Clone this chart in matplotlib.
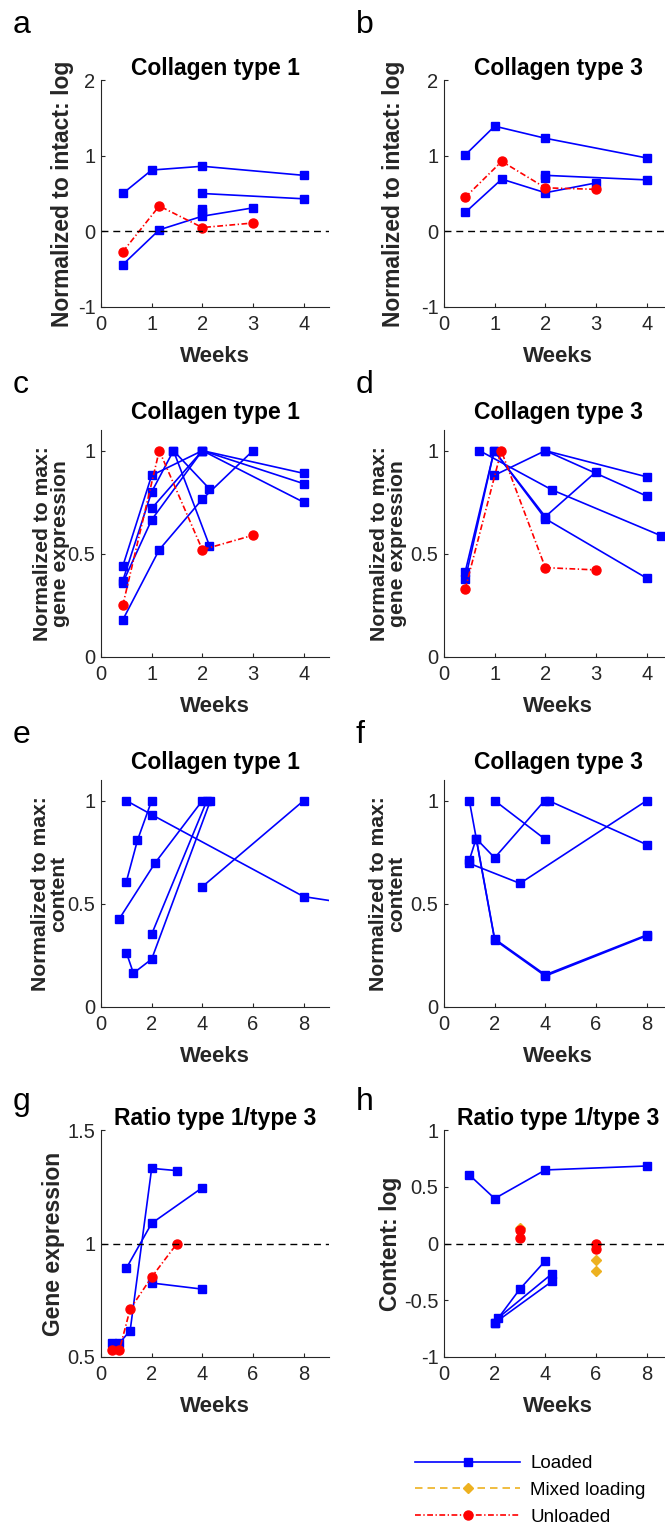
import numpy as np
import matplotlib.pyplot as plt
from matplotlib.lines import Line2D

plt.rcParams['font.family'] = ['Liberation Sans', 'DejaVu Sans']

# ---- data (weeks vs value), one list per series ----
# a: collagen 1, normalized to intact (log)
a_load_x = [[0.43, 1.0, 2.0, 4.0], [2.0, 4.0], [0.43, 1.15, 2.0, 3.0], [2.0], [2.0]]
a_load_y = [[0.50, 0.81, 0.86, 0.74], [0.50, 0.43], [-0.44, 0.02, 0.20, 0.31], [0.29], [0.25]]
a_unl_x = [[0.43, 1.15, 2.0, 3.0]]
a_unl_y = [[-0.27, 0.335, 0.05, 0.11]]

# b: collagen 3, normalized to intact (log)
b_load_x = [[0.42, 1.0, 2.0, 4.0], [2.0, 4.0], [0.42, 1.14, 2.0, 3.0], [2.0]]
b_load_y = [[1.01, 1.39, 1.23, 0.97], [0.74, 0.68], [0.25, 0.69, 0.51, 0.64], [0.70]]
b_unl_x = [[0.42, 1.14, 2.0, 3.0]]
b_unl_y = [[0.45, 0.925, 0.575, 0.555]]

# c: collagen 1 gene expression, normalized to max
c_load_x = [[0.43, 1.0, 2.0, 4.0], [0.43, 1.0, 1.43, 2.14], [0.43, 1.0, 2.0, 4.0],
            [1.0, 2.0, 4.0], [1.43, 2.14], [0.43, 1.15, 2.0, 3.0]]
c_load_y = [[0.44, 0.88, 1.0, 0.89], [0.37, 0.80, 1.0, 0.815], [0.36, 0.665, 1.0, 0.75],
            [0.72, 1.0, 0.84], [1.0, 0.54], [0.18, 0.52, 0.765, 1.0]]
c_unl_x = [[0.43, 1.15, 2.0, 3.0]]
c_unl_y = [[0.25, 1.0, 0.52, 0.59]]

# d: collagen 3 gene expression, normalized to max
d_load_x = [[0.70, 2.13, 4.28], [0.99, 2.0, 4.0], [0.42, 0.99, 2.0, 3.0],
            [0.42, 0.99, 2.0, 4.0], [2.0, 4.0]]
d_load_y = [[1.0, 0.81, 0.588], [0.88, 1.0, 0.873], [0.414, 1.0, 0.68, 0.897],
            [0.377, 1.0, 0.67, 0.382], [1.0, 0.78]]
d_unl_x = [[0.42, 1.13, 2.0, 3.0]]
d_unl_y = [[0.33, 1.0, 0.433, 0.422]]

# e: collagen 1 content, normalized to max
e_load_x = [[1.0, 2.0, 8.0, 12.0], [1.0, 1.44, 2.0], [0.71, 2.14, 4.0], [2.0, 4.18],
            [1.0, 1.28, 2.0, 4.32], [4.0, 8.0]]
e_load_y = [[1.0, 0.932, 0.535, 0.46], [0.607, 0.808, 1.0], [0.425, 0.699, 1.0], [0.353, 1.0],
            [0.264, 0.164, 0.232, 1.0], [0.583, 1.0]]

# f: collagen 3 content, normalized to max
f_load_x = [[1.0, 2.0, 4.0, 8.0], [1.27, 2.0, 4.0, 8.0], [1.0, 1.27, 2.0, 3.97],
            [4.13, 8.0], [2.0, 4.0], [1.0, 3.0, 8.0]]
f_load_y = [[1.0, 0.33, 0.156, 0.349], [0.816, 0.325, 0.15, 0.345], [0.712, 0.816, 0.723, 1.0],
            [1.0, 0.787], [1.0, 0.812], [0.696, 0.599, 1.0]]

# g: ratio 1/3 gene expression
g_load_x = [[0.42, 0.73, 1.15, 2.0, 3.0], [1.0, 2.0, 4.0], [2.0, 4.0]]
g_load_y = [[0.562, 0.562, 0.616, 1.331, 1.321], [0.891, 1.089, 1.246], [0.826, 0.799]]
g_unl_x = [[0.42, 0.73, 1.15, 2.0, 3.0]]
g_unl_y = [[0.532, 0.532, 0.711, 0.852, 1.0]]

# h: ratio 1/3 content (log)
h_load_x = [[1.0, 2.0, 4.0, 8.0], [2.0, 3.0, 4.0], [2.13, 4.26], [2.0, 4.26]]
h_load_y = [[0.604, 0.396, 0.648, 0.683], [-0.70, -0.40, -0.152], [-0.657, -0.267], [-0.70, -0.334]]
h_mix_x = [[3.0], [6.0], [6.0]]
h_mix_y = [[0.14], [-0.144], [-0.246]]
h_unl_x = [[3.0], [3.0], [6.0], [6.0]]
h_unl_y = [[0.115], [0.047], [-0.005], [-0.05]]

legend_labels = ['Loaded', 'Mixed loading', 'Unloaded']

# styles (matlab-ish)
gray = '#262626'
loaded = dict(color='#0000ff', ls='-', lw=1.2, marker='s', ms=5.5)
mixed = dict(color='#edb120', ls=(0, (4.5, 3)), lw=1.2, marker='D', ms=5.5)
unloaded = dict(color='#ff0000', ls=(0, (3.5, 1.5, 0.8, 1.5)), lw=1.2, marker='o', ms=6.5)

fig = plt.figure(figsize=(6.65, 15.24), dpi=100)
W, H = 665.0, 1524.0

def make_ax(left_px, bottom_px):
    ax = fig.add_axes([left_px / W, 1 - bottom_px / H, 228 / W, 227 / H])
    ax.spines[['top', 'right']].set_visible(False)
    for s in ['left', 'bottom']:
        ax.spines[s].set_color(gray)
        ax.spines[s].set_linewidth(0.8)
    ax.tick_params(direction='in', length=3, width=0.8, color=gray,
                   labelcolor=gray, labelsize=14.5)
    ax.tick_params(axis='x', pad=6)
    ax.tick_params(axis='y', pad=4)
    return ax

def draw(ax, xs, ys, style):
    for x, y in zip(xs, ys):
        ax.plot(x, y, **style)

panels = [
    # letter, left, bottom, title, ylabel, ylabel x, ylabel size, title pad
    ('a', 101, 307, 'Collagen type 1', 'Normalized to intact: log', -0.118, 16.5, 0.5),
    ('b', 444, 307, 'Collagen type 3', 'Normalized to intact: log', -0.171, 16.5, 0.5),
    ('c', 101, 657, 'Collagen type 1', 'Normalized to max:\ngene expression', -0.136, 15.2, 7.6),
    ('d', 444, 657, 'Collagen type 3', 'Normalized to max:\ngene expression', -0.162, 15.2, 7.6),
    ('e', 101, 1007, 'Collagen type 1', 'Normalized to max:\ncontent', -0.145, 15.2, 7.6),
    ('f', 444, 1007, 'Collagen type 3', 'Normalized to max:\ncontent', -0.167, 15.2, 7.6),
    ('g', 101, 1357, 'Ratio type 1/type 3', 'Gene expression', -0.158, 16.5, 0.5),
    ('h', 444, 1357, 'Ratio type 1/type 3', 'Content: log', -0.184, 16.5, 0.5),
]
letter_base = {307: 33, 657: 393, 1007: 743, 1357: 1110}

axes = {}
for letter, lx, by, title, ylab, ylx, yfs, tpad in panels:
    ax = make_ax(lx, by)
    axes[letter] = ax
    ax.set_title(title, fontsize=16.5, fontweight='bold', pad=tpad)
    ax.set_ylabel(ylab, fontsize=yfs, fontweight='bold', color=gray, linespacing=0.95)
    ax.yaxis.set_label_coords(ylx, 0.5)
    ax.set_xlabel('Weeks', fontsize=16, fontweight='bold', color=gray)
    ax.xaxis.set_label_coords(0.5, -0.172)
    fig.text((lx - 88) / W, 1 - letter_base[by] / H, letter, fontsize=23,
             va='baseline', ha='left')

# a, b
for k, lx, ly, ux, uy in [('a', a_load_x, a_load_y, a_unl_x, a_unl_y),
                          ('b', b_load_x, b_load_y, b_unl_x, b_unl_y)]:
    ax = axes[k]
    draw(ax, lx, ly, loaded)
    draw(ax, ux, uy, unloaded)
    ax.axhline(0, color='k', ls=(0, (5, 3.5)), lw=1)
    ax.set_xlim(0, 4.5)
    ax.set_ylim(-1, 2)
    ax.set_xticks([0, 1, 2, 3, 4])
    ax.set_yticks([-1, 0, 1, 2])
    ax.set_yticklabels(['-1', '0', '1', '2'])

# c, d
for k, lx, ly, ux, uy in [('c', c_load_x, c_load_y, c_unl_x, c_unl_y),
                          ('d', d_load_x, d_load_y, d_unl_x, d_unl_y)]:
    ax = axes[k]
    draw(ax, lx, ly, loaded)
    draw(ax, ux, uy, unloaded)
    ax.set_xlim(0, 4.5)
    ax.set_ylim(0, 1.1)
    ax.set_xticks([0, 1, 2, 3, 4])
    ax.set_yticks([0, 0.5, 1])
    ax.set_yticklabels(['0', '0.5', '1'])

# e, f
for k, lx, ly in [('e', e_load_x, e_load_y), ('f', f_load_x, f_load_y)]:
    ax = axes[k]
    draw(ax, lx, ly, loaded)
    ax.set_xlim(0, 9)
    ax.set_ylim(0, 1.1)
    ax.set_xticks([0, 2, 4, 6, 8])
    ax.set_yticks([0, 0.5, 1])
    ax.set_yticklabels(['0', '0.5', '1'])

# g
ax = axes['g']
draw(ax, g_load_x, g_load_y, loaded)
draw(ax, g_unl_x, g_unl_y, unloaded)
ax.axhline(1, color='k', ls=(0, (5, 3.5)), lw=1)
ax.set_xlim(0, 9)
ax.set_ylim(0.5, 1.5)
ax.set_xticks([0, 2, 4, 6, 8])
ax.set_yticks([0.5, 1, 1.5])
ax.set_yticklabels(['0.5', '1', '1.5'])

# h
ax = axes['h']
draw(ax, h_load_x, h_load_y, loaded)
draw(ax, h_mix_x, h_mix_y, mixed)
draw(ax, h_unl_x, h_unl_y, unloaded)
ax.axhline(0, color='k', ls=(0, (5, 3.5)), lw=1)
ax.set_xlim(0, 9)
ax.set_ylim(-1, 1)
ax.set_xticks([0, 2, 4, 6, 8])
ax.set_yticks([-1, -0.5, 0, 0.5, 1])
ax.set_yticklabels(['-1', '-0.5', '0', '0.5', '1'])

handles = [Line2D([], [], **loaded), Line2D([], [], **mixed), Line2D([], [], **unloaded)]
fig.legend(handles, legend_labels, loc='upper left', bbox_to_anchor=(415 / W, 1 - 1455 / H),
           frameon=False, fontsize=13.5, handlelength=5.6, handletextpad=0.55,
           labelspacing=0.52, borderpad=0, borderaxespad=0, numpoints=1)

fig.savefig('out.png', dpi=100)
